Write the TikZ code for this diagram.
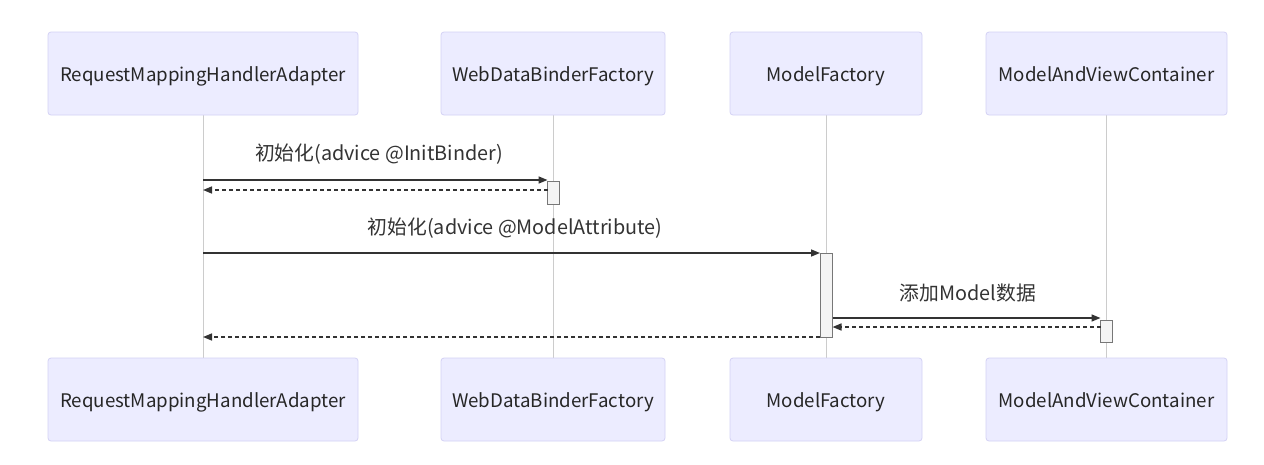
\documentclass[tikz,border=0pt]{standalone}
\usepackage{fontspec}
\setmainfont{Noto Sans CJK SC}
\usetikzlibrary{arrows.meta}
\definecolor{actfill}{HTML}{ECECFF}
\definecolor{actdraw}{HTML}{D4D2F5}
\definecolor{lifeline}{HTML}{CCCCCC}
\definecolor{msg}{HTML}{333333}
\definecolor{actvfill}{HTML}{F4F4F4}
\definecolor{actvdraw}{HTML}{777777}
\tikzset{
  actor/.style={draw=actdraw, fill=actfill, rounded corners=3pt, line width=0.8pt, inner sep=0pt,
    font=\fontsize{18.7}{22}\selectfont, text=black!85, text height=17pt, text depth=1pt},
  life/.style={draw=lifeline, line width=1pt},
  call/.style={draw=msg, line width=1.5pt, -{Triangle[length=9pt,width=7pt]}},
  ret/.style={draw=msg, line width=1.5pt, dash pattern=on 4pt off 3pt, -{Triangle[length=9pt,width=7pt]}},
  actv/.style={draw=actvdraw, fill=actvfill, line width=1pt},
  lbl/.style={font=\fontsize{19.8}{23}\selectfont, text=black!80, inner sep=0pt}
}
\begin{document}
\begin{tikzpicture}[x=1pt,y=-1pt]
\useasboundingbox (0,0) rectangle (1264,464);
\fill[white] (0,0) rectangle (1264,464);
% lifelines
\coordinate (l1t) at (203,115); \coordinate (l1b) at (203,358);
\coordinate (l2t) at (553,115); \coordinate (l2b) at (553,358);
\coordinate (l3t) at (826,115); \coordinate (l3b) at (826,358);
\coordinate (l4t) at (1106,115); \coordinate (l4b) at (1106,358);
\draw[life] (l1t) -- (l1b);
\draw[life] (l2t) -- (l2b);
\draw[life] (l3t) -- (l3b);
\draw[life] (l4t) -- (l4b);
% actors top
\node[actor, minimum width=310pt, minimum height=83pt] (a1) at (203,73.5) {RequestMappingHandlerAdapter};
\node[actor, minimum width=224pt, minimum height=83pt] (a2) at (553,73.5) {WebDataBinderFactory};
\node[actor, minimum width=192pt, minimum height=83pt] (a3) at (826,73.5) {ModelFactory};
\node[actor, minimum width=241pt, minimum height=83pt] (a4) at (1106.5,73.5) {ModelAndViewContainer};
% actors bottom
\node[actor, minimum width=310pt, minimum height=83pt] (b1) at (203,399.5) {RequestMappingHandlerAdapter};
\node[actor, minimum width=224pt, minimum height=83pt] (b2) at (553,399.5) {WebDataBinderFactory};
\node[actor, minimum width=192pt, minimum height=83pt] (b3) at (826,399.5) {ModelFactory};
\node[actor, minimum width=241pt, minimum height=83pt] (b4) at (1106.5,399.5) {ModelAndViewContainer};
% activations
\draw[actv] (547.5,181) rectangle (559,204);
\node[inner sep=0pt, minimum width=11.5pt, minimum height=23pt] (v1) at (553.25,192.5) {};
\draw[actv] (820,253) rectangle (832.5,337);
\node[inner sep=0pt, minimum width=12.5pt, minimum height=84pt] (v2) at (826.25,295) {};
\draw[actv] (1100.5,320) rectangle (1112,342);
\node[inner sep=0pt, minimum width=11.5pt, minimum height=22pt] (v3) at (1106.25,331) {};
% messages
\coordinate (m1s) at (203,180); \coordinate (m1e) at (547.5,180);
\draw[call] (m1s) -- (m1e);
\node[lbl] (t1) at (379,154) {初始化(advice @InitBinder)};
\coordinate (r1s) at (547.5,190); \coordinate (r1e) at (203,190);
\draw[ret] (r1s) -- (r1e);
\coordinate (m2s) at (203,253); \coordinate (m2e) at (820,253);
\draw[call] (m2s) -- (m2e);
\node[lbl] (t2) at (515,228) {初始化(advice @ModelAttribute)};
\coordinate (m3s) at (832.5,318); \coordinate (m3e) at (1100.5,318);
\draw[call] (m3s) -- (m3e);
\node[lbl] (t3) at (968,293) {添加Model数据};
\coordinate (r3s) at (1100.5,327); \coordinate (r3e) at (832.5,327);
\draw[ret] (r3s) -- (r3e);
\coordinate (r2s) at (820,337); \coordinate (r2e) at (203,337);
\draw[ret] (r2s) -- (r2e);
\end{tikzpicture}
\end{document}
